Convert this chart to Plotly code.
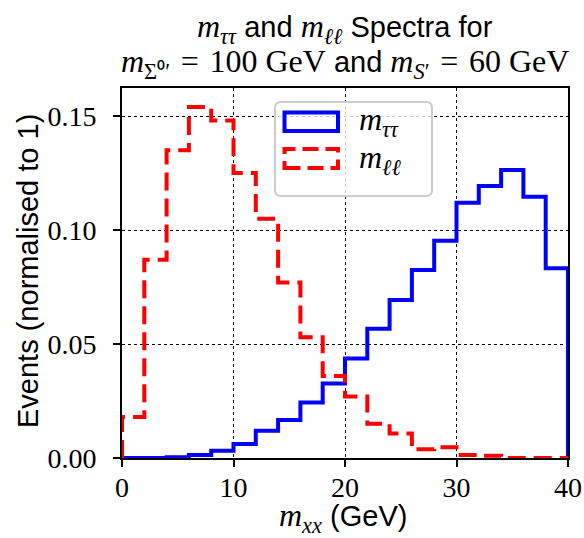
import plotly.graph_objects as go

bin_edges = [0, 2, 4, 6, 8, 10, 12, 14, 16, 18, 20, 22, 24, 26, 28, 30, 32, 34, 36, 38, 40]
m_tautau = [0.0, 0.0, 0.0003, 0.0013, 0.0032, 0.0061, 0.012, 0.0167, 0.0243, 0.0327,
            0.0436, 0.0567, 0.0693, 0.0825, 0.0953, 0.112, 0.1193, 0.1263, 0.1146, 0.0832]
m_ll = [0.018, 0.087, 0.135, 0.154, 0.148, 0.125, 0.105, 0.077, 0.053, 0.036,
        0.027, 0.015, 0.0108, 0.0038, 0.0047, 0.0013, 0.001, 0.0, 0.0, 0.0]
y_ticks = [0.0, 0.05, 0.10, 0.15]
x_ticks = [0, 10, 20, 30, 40]

SERIF = "Liberation Serif"
SANS = "Liberation Sans"
FS = 29      # sans text size
MS = 32      # math (serif) size
TS = 28      # tick label size
SP = "\u2004"


def S(s, size=MS):
    return f'<span style="font-family:{SERIF};font-size:{size}px">{s}</span>'


def step(vals):
    xs = [bin_edges[0]] + bin_edges[:-1] + [bin_edges[-1]]
    ys = [0] + list(vals) + [0]
    return xs, ys


fig = go.Figure()
x1, y1 = step(m_tautau)
fig.add_trace(go.Scatter(x=x1, y=y1, mode="lines", line=dict(shape="hv", color="#0000ff", width=4),
                         showlegend=False))
x2, y2 = step(m_ll)
fig.add_trace(go.Scatter(x=x2, y=y2, mode="lines", line=dict(shape="hv", color="#ff0000", width=4, dash="18px,8px"),
                         showlegend=False))

L, R, T, B = 122, 16, 88, 80
W, H = 584, 538
pw, ph = W - L - R, H - T - B


def px(x):
    return (x - L) / pw


def py(y):
    return (H - B - y) / ph


# rounded legend frame
x0, x1_, y0, y1_ = px(275), px(432), py(196), py(102)
rx, ry = 6 / pw, 6 / ph
path = (f"M {x0+rx},{y0} L {x1_-rx},{y0} Q {x1_},{y0} {x1_},{y0+ry} L {x1_},{y1_-ry} "
        f"Q {x1_},{y1_} {x1_-rx},{y1_} L {x0+rx},{y1_} Q {x0},{y1_} {x0},{y1_-ry} "
        f"L {x0},{y0+ry} Q {x0},{y0} {x0+rx},{y0} Z")
shapes = [
    dict(type="path", path=path, xref="paper", yref="paper", line=dict(color="#cccccc", width=2),
         fillcolor="rgba(255,255,255,0.8)", layer="above"),
    dict(type="rect", xref="paper", yref="paper", x0=px(284.5), x1=px(338), y0=py(131), y1=py(112.5),
         line=dict(color="#0000ff", width=4), layer="above"),
    dict(type="rect", xref="paper", yref="paper", x0=px(284.5), x1=px(338), y0=py(168), y1=py(149),
         line=dict(color="#ff0000", width=4, dash="16px,7px"), layer="above"),
]
line1 = S("<i>m</i><sub><i>ττ</i></sub>") + " and " + S("<i>m</i><sub><i>ℓℓ</i></sub>") + " Spectra for"
line2 = (S(f"<i>m</i><sub>Σ⁰′</sub>{SP}={SP}100 GeV") + " and "
         + S(f"<i>m</i><sub><i>S</i>′</sub>{SP}={SP}60 GeV"))

annotations = [
    dict(text="<i>m</i><sub><i>ττ</i></sub>", x=px(357), y=py(121), xref="paper", yref="paper",
         xanchor="left", yanchor="middle", showarrow=False, font=dict(family=SERIF, size=MS, color="black")),
    dict(text="<i>m</i><sub><i>ℓℓ</i></sub>", x=px(357), y=py(159), xref="paper", yref="paper",
         xanchor="left", yanchor="middle", showarrow=False, font=dict(family=SERIF, size=MS, color="black")),
    dict(text=line1, x=0.5, y=py(28), xref="paper", yref="paper", xanchor="center", yanchor="middle",
         showarrow=False, font=dict(family=SANS, size=FS, color="black")),
    dict(text=line2, x=0.5, y=py(63), xref="paper", yref="paper", xanchor="center", yanchor="middle",
         showarrow=False, font=dict(family=SANS, size=FS, color="black")),
    dict(text=S("<i>m</i><sub><i>xx</i></sub>") + " (GeV)", x=px(343), y=py(517), xref="paper", yref="paper",
         xanchor="center", yanchor="middle", showarrow=False, font=dict(family=SANS, size=FS, color="black")),
    dict(text="Events (normalised to 1)", x=px(28), y=py(271), xref="paper", yref="paper", textangle=-90,
         xanchor="center", yanchor="middle", showarrow=False, font=dict(family=SANS, size=FS, color="black")),
]

fig.update_layout(
    width=W, height=H,
    margin=dict(l=L, r=R, t=T, b=B),
    paper_bgcolor="white", plot_bgcolor="white",
    font=dict(family=SANS, size=FS, color="black"),
    shapes=shapes, annotations=annotations,
    xaxis=dict(range=[0, 40], tickvals=x_ticks, ticktext=[str(v) for v in x_ticks],
               showgrid=True, gridcolor="black", griddash="dot", gridwidth=1,
               showline=True, linecolor="black", linewidth=2, mirror=True,
               ticks="outside", ticklen=7, tickwidth=2, tickcolor="black",
               tickfont=dict(family=SERIF, size=TS), zeroline=False, automargin=False,
               ticklabelstandoff=-4),
    yaxis=dict(range=[0, 0.1623], tickvals=y_ticks, ticktext=[f"{v:.2f}" for v in y_ticks],
               showgrid=True, gridcolor="black", griddash="dot", gridwidth=1,
               showline=True, linecolor="black", linewidth=2, mirror=True,
               ticks="outside", ticklen=7, tickwidth=2, tickcolor="black",
               tickfont=dict(family=SERIF, size=TS), zeroline=False, automargin=False,
               ticklabelstandoff=11),
)

fig.write_html("out.html")
